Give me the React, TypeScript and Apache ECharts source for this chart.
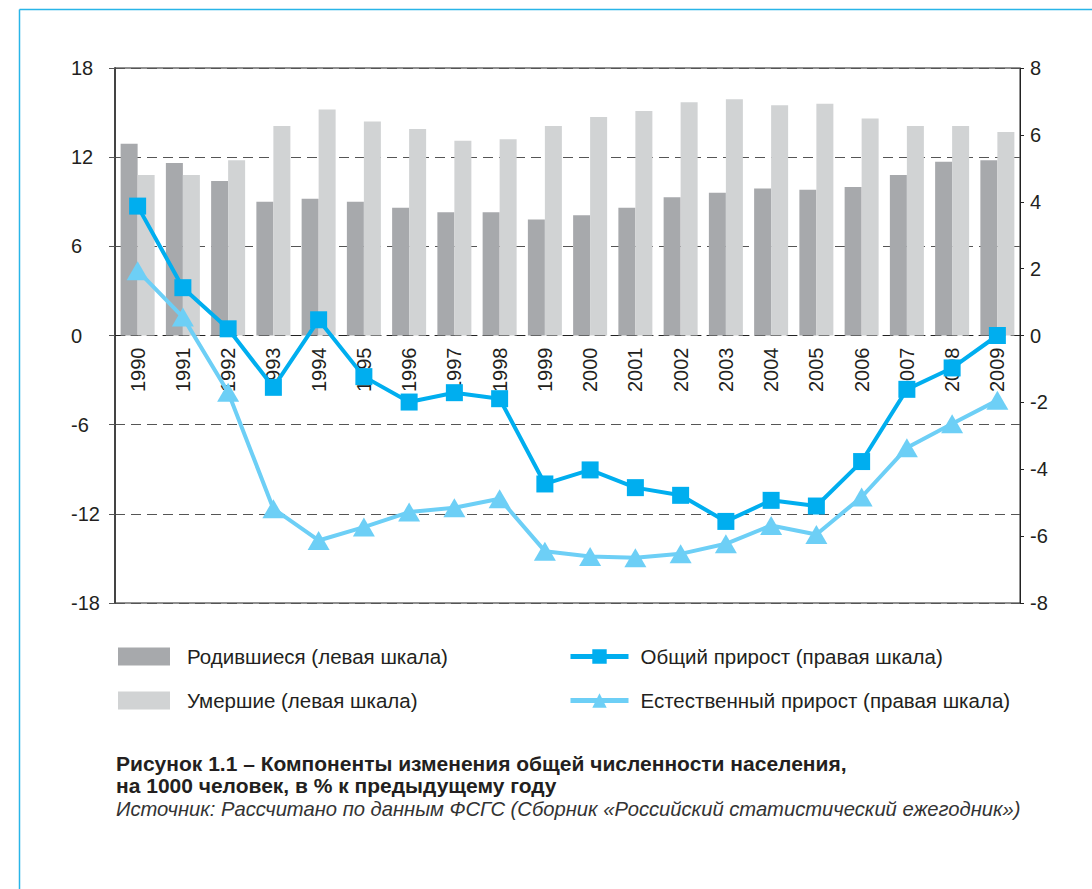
import React, { useEffect, useRef } from "react";
import * as echarts from "echarts";

const years = ["1990","1991","1992","1993","1994","1995","1996","1997","1998","1999","2000","2001","2002","2003","2004","2005","2006","2007","2008","2009"];
const births = [12.9, 11.6, 10.4, 9.0, 9.2, 9.0, 8.6, 8.3, 8.3, 7.8, 8.1, 8.6, 9.3, 9.6, 9.9, 9.8, 10.0, 10.8, 11.7, 11.8];
const deaths = [10.8, 10.8, 11.8, 14.1, 15.2, 14.4, 13.9, 13.1, 13.2, 14.1, 14.7, 15.1, 15.7, 15.9, 15.5, 15.6, 14.6, 14.1, 14.1, 13.7];
const totalGrowth = [3.87, 1.43, 0.2, -1.55, 0.47, -1.23, -1.99, -1.71, -1.89, -4.44, -4.02, -4.55, -4.78, -5.56, -4.93, -5.1, -3.77, -1.61, -0.97, 0.0];
const naturalGrowth = [1.94, 0.55, -1.7, -5.18, -6.13, -5.73, -5.28, -5.15, -4.88, -6.45, -6.61, -6.65, -6.53, -6.23, -5.68, -5.95, -4.83, -3.36, -2.64, -1.94];

const seriesNames = [
  "Родившиеся (левая шкала)",
  "Умершие (левая шкала)",
  "Общий прирост (правая шкала)",
  "Естественный прирост (правая шкала)",
];
const captionTitle = "Рисунок 1.1 – Компоненты изменения общей численности населения,\nна 1000 человек, в % к предыдущему году";
const captionSource = "Источник: Рассчитано по данным ФСГС (Сборник «Российский статистический ежегодник»)";

const FONT = "'Liberation Sans', Arial, sans-serif";

export default function App() {
  const ref = useRef<HTMLDivElement>(null);
  useEffect(() => {
    if (!ref.current) return;
    const chart = echarts.init(ref.current, null, { renderer: "svg" });
    const grey = "#555555";
    chart.setOption({
      animation: false,
      backgroundColor: "#ffffff",
      textStyle: { fontFamily: FONT },
      grid: {
        left: 115, top: 68, width: 905, height: 535,
        show: true, borderColor: "#222", borderWidth: 1, backgroundColor: "transparent",
      },
      legend: [
        {
          data: [seriesNames[0], seriesNames[1]],
          orient: "vertical", left: 113, top: 641,
          itemWidth: 52, itemHeight: 18, itemGap: 23,
          icon: "rect",
          textStyle: { fontSize: 20.5, lineHeight: 20, color: "#231f20", fontFamily: FONT, padding: [0, 0, 0, 12] },
        },
        {
          data: [seriesNames[2], seriesNames[3]],
          orient: "vertical", left: 563, top: 641,
          itemWidth: 58, itemHeight: 18, itemGap: 23,
          lineStyle: { width: 5 },
          textStyle: { fontSize: 20.5, lineHeight: 20, color: "#231f20", fontFamily: FONT, padding: [0, 0, 0, 7] },
        },
      ],
      title: {
        text: captionTitle,
        subtext: captionSource,
        left: 116, top: 752,
        itemGap: 2,
        padding: 0,
        textStyle: { fontSize: 21, fontWeight: "bold", color: "#231f20", lineHeight: 22, fontFamily: FONT },
        subtextStyle: { fontSize: 20.2, fontStyle: "italic", color: "#333", lineHeight: 22, fontFamily: FONT },
      },
      xAxis: {
        type: "category",
        data: years,
        boundaryGap: true,
        offset: -267.5,
        axisLine: { show: true, onZero: false, lineStyle: { color: "#222", width: 1, type: [10, 6] } },
        axisTick: { show: false },
        axisLabel: { rotate: 90, margin: 12, fontSize: 20, color: "#231f20", fontFamily: FONT },
        splitLine: { show: false },
      },
      yAxis: [
        {
          type: "value", min: -18, max: 18, interval: 6,
          axisLine: { show: true, lineStyle: { color: "#444", width: 2 } },
          axisTick: { show: true, length: 10, lineStyle: { color: grey, type: [6, 4] } },
          axisLabel: { align: "left", margin: 44, fontSize: 20, color: "#231f20", fontFamily: FONT },
          splitLine: { show: true, lineStyle: { color: grey, width: 1, type: [10, 6] } },
        },
        {
          type: "value", min: -8, max: 8, interval: 2,
          position: "right",
          axisLine: { show: true, lineStyle: { color: "#222", width: 1 } },
          axisTick: { show: true, length: 4, lineStyle: { color: "#222" } },
          axisLabel: { margin: 10, fontSize: 20, color: "#231f20", fontFamily: FONT },
          splitLine: { show: false },
        },
      ],
      series: [
        {
          name: seriesNames[0], type: "bar", yAxisIndex: 0, data: births,
          barWidth: 17, barGap: "0%", itemStyle: { color: "#a7a9ac" },
        },
        {
          name: seriesNames[1], type: "bar", yAxisIndex: 0, data: deaths,
          barWidth: 17, barGap: "0%", itemStyle: { color: "#d1d3d4" },
        },
        {
          name: seriesNames[3], type: "line", yAxisIndex: 1, data: naturalGrowth,
          symbol: "triangle", symbolSize: [22, 19], z: 3,
          lineStyle: { color: "#6dcff6", width: 4 },
          itemStyle: { color: "#6dcff6" },
        },
        {
          name: seriesNames[2], type: "line", yAxisIndex: 1, data: totalGrowth,
          symbol: "rect", symbolSize: 17, z: 4,
          lineStyle: { color: "#00aeef", width: 4 },
          itemStyle: { color: "#00aeef" },
        },
      ],
      graphic: [
        { type: "line", shape: { x1: 19.5, y1: 9.5, x2: 1092, y2: 9.5 }, style: { stroke: "#29b5e8", lineWidth: 1.5 } },
        { type: "line", shape: { x1: 19.5, y1: 9.5, x2: 19.5, y2: 889 }, style: { stroke: "#29b5e8", lineWidth: 1.5 } },
      ],
    });
    return () => chart.dispose();
  }, []);
  return <div ref={ref} style={{ position: "fixed", left: 0, top: 0, width: 1092, height: 889 }} />;
}
